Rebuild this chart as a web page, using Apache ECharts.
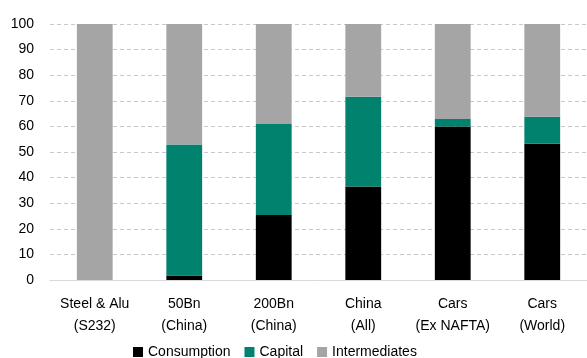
<!DOCTYPE html>
<html>
<head>
<meta charset="utf-8">
<script src="https://cdn.jsdelivr.net/npm/echarts@6/dist/echarts.min.js"></script>
<style>
  html, body { margin: 0; padding: 0; background: #fff; }
  #chart { width: 587px; height: 358px; }
</style>
</head>
<body>
<div id="chart"></div>
<script>
var categories = ['Steel & Alu\n(S232)', '50Bn\n(China)', '200Bn\n(China)', 'China\n(All)', 'Cars\n(Ex NAFTA)', 'Cars\n(World)'];
var consumption = [0, 1.8, 25.4, 36.5, 60, 53.2];
var capital = [0, 51.1, 35.5, 35.1, 2.9, 10.6];
var intermediates = [100, 47.1, 39.1, 28.4, 37.1, 36.2];

var colors = { consumption: '#000000', capital: '#00826f', intermediates: '#a5a5a5' };
var font = '"Liberation Sans", Arial, sans-serif';

var chart = echarts.init(document.getElementById('chart'));

function barSeries(name, data, color) {
    return {
        name: name,
        type: 'bar',
        stack: 'total',
        barWidth: '40%',
        data: data,
        itemStyle: { color: color },
        emphasis: { disabled: true }
    };
}

chart.setOption({
    animation: false,
    textStyle: { fontFamily: font },
    grid: { left: 50, right: 0, top: 24, bottom: 78 },
    legend: {
        bottom: -6,
        left: 128,
        itemWidth: 10,
        itemHeight: 10,
        itemGap: 14,
        icon: 'rect',
        textStyle: { fontSize: 14, color: '#000', fontFamily: font },
        data: ['Consumption', 'Capital', 'Intermediates']
    },
    xAxis: {
        type: 'category',
        data: categories,
        axisLine: { lineStyle: { color: '#d9d9d9', width: 1 } },
        axisTick: { show: false },
        axisLabel: { color: '#000', fontSize: 14, lineHeight: 22, margin: 13, interval: 0, fontFamily: font }
    },
    yAxis: {
        type: 'value',
        min: 0,
        max: 100,
        interval: 10,
        axisLine: { show: false },
        axisTick: { show: false },
        axisLabel: { color: '#000', fontSize: 14, margin: 16, fontFamily: font },
        splitLine: { lineStyle: { color: '#c8c8c8', type: [4, 3], width: 1 } }
    },
    series: [
        barSeries('Consumption', consumption, colors.consumption),
        barSeries('Capital', capital, colors.capital),
        barSeries('Intermediates', intermediates, colors.intermediates)
    ]
});
</script>
</body>
</html>
